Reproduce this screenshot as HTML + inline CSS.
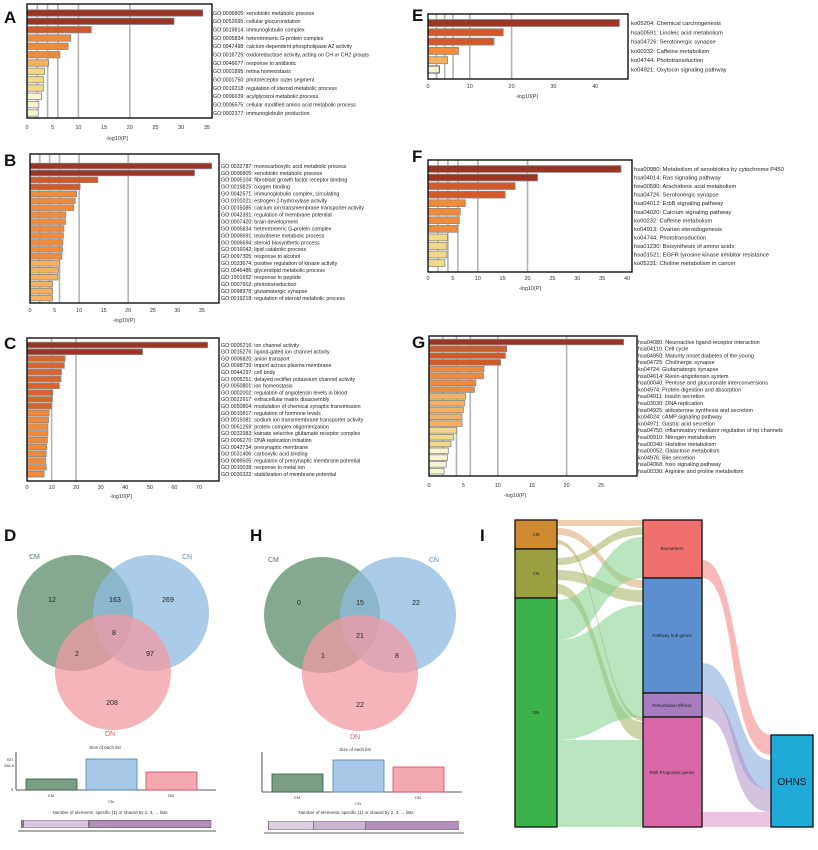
<!DOCTYPE html>
<html><head><meta charset="utf-8"><style>
html,body{margin:0;padding:0;background:#fff;width:818px;height:850px;overflow:hidden}
svg{display:block;font-family:"Liberation Sans",sans-serif}
.l{font-size:5.3px;fill:#222}
.le{font-size:5.8px;fill:#222}
.lg{font-size:5.5px;fill:#222}
.t{font-size:5.5px;fill:#333;text-anchor:middle}
.P{font-size:17px;font-weight:bold;fill:#111}
.g{stroke:#b4b4b4;stroke-width:1.6}
.fr{fill:none;stroke:#111;stroke-width:1.4}
.b rect{stroke:#8a8a8a;stroke-width:0.8}
</style></head><body>
<svg width="818" height="850" viewBox="0 0 818 850" xmlns="http://www.w3.org/2000/svg">
<!-- Panel letters -->
<text class="P" x="4" y="23">A</text>
<text class="P" x="4" y="166">B</text>
<text class="P" x="4" y="349">C</text>
<text class="P" x="412" y="21">E</text>
<text class="P" x="412" y="162">F</text>
<text class="P" x="412" y="348">G</text>
<text class="P" x="4" y="541">D</text>
<text class="P" x="250" y="541">H</text>
<text class="P" x="480" y="541">I</text>

<!-- ===== A ===== -->
<g>
<line class="g" x1="37.3" y1="4" x2="37.3" y2="118"/><line class="g" x1="47.6" y1="4" x2="47.6" y2="118"/><line class="g" x1="57.8" y1="4" x2="57.8" y2="118"/><line class="g" x1="78.4" y1="4" x2="78.4" y2="118"/><line class="g" x1="129.8" y1="4" x2="129.8" y2="118"/>
<g class="b">
<rect x="27" y="9.8" width="175.8" height="6.4" fill="#9b3424"/>
<rect x="27" y="18.1" width="147" height="6.4" fill="#9b3424"/>
<rect x="27" y="26.5" width="64.3" height="6.4" fill="#d2592a"/>
<rect x="27" y="34.8" width="43.7" height="6.4" fill="#f28a3c"/>
<rect x="27" y="43.1" width="41.1" height="6.4" fill="#f28a3c"/>
<rect x="27" y="51.5" width="32.9" height="6.4" fill="#f28a3c"/>
<rect x="27" y="59.8" width="21.6" height="6.4" fill="#f5b160"/>
<rect x="27" y="68.1" width="17.5" height="6.4" fill="#f4d88a"/>
<rect x="27" y="76.4" width="16.4" height="6.4" fill="#f4d88a"/>
<rect x="27" y="84.8" width="16.4" height="6.4" fill="#f4d88a"/>
<rect x="27" y="93.1" width="14.4" height="6.4" fill="#f8f5cf"/>
<rect x="27" y="101.4" width="11.8" height="6.4" fill="#f8f5cf"/>
<rect x="27" y="109.8" width="11.3" height="6.4" fill="#f8f5cf"/>
</g>
<rect class="fr" x="27" y="4" width="185" height="114"/>
<g class="t"><text x="27" y="129">0</text><text x="52.7" y="129">5</text><text x="78.4" y="129">10</text><text x="104.1" y="129">15</text><text x="129.8" y="129">20</text><text x="155.5" y="129">25</text><text x="181.2" y="129">30</text><text x="206.9" y="129">35</text><text x="117" y="140">-log10(P)</text></g>
<g class="l">
<text x="213" y="14.8">GO:0006805: xenobiotic metabolic process</text>
<text x="213" y="23.1">GO:0052695: cellular glucuronidation</text>
<text x="213" y="31.5">GO:0019814: immunoglobulin complex</text>
<text x="213" y="39.8">GO:0005834: heterotrimeric G-protein complex</text>
<text x="213" y="48.1">GO:0047498: calcium-dependent phospholipase A2 activity</text>
<text x="213" y="56.5">GO:0016725: oxidoreductase activity, acting on CH or CH2 groups</text>
<text x="213" y="64.8">GO:0046677: response to antibiotic</text>
<text x="213" y="73.1">GO:0001895: retina homeostasis</text>
<text x="213" y="81.4">GO:0001750: photoreceptor outer segment</text>
<text x="213" y="89.8">GO:0019218: regulation of steroid metabolic process</text>
<text x="213" y="98.1">GO:0006639: acylglycerol metabolic process</text>
<text x="213" y="106.4">GO:0006575: cellular modified amino acid metabolic process</text>
<text x="213" y="114.8">GO:0002377: immunoglobulin production</text>
</g>
</g>

<!-- ===== B ===== -->
<g>
<line class="g" x1="39.8" y1="154" x2="39.8" y2="303"/><line class="g" x1="49.6" y1="154" x2="49.6" y2="303"/><line class="g" x1="59.5" y1="154" x2="59.5" y2="303"/><line class="g" x1="79.1" y1="154" x2="79.1" y2="303"/><line class="g" x1="128.2" y1="154" x2="128.2" y2="303"/>
<g class="b">
<rect x="30" y="163.2" width="181.7" height="5.6" fill="#9b3424"/>
<rect x="30" y="170.15" width="164.5" height="5.6" fill="#9b3424"/>
<rect x="30" y="177.1" width="67.8" height="5.6" fill="#d2592a"/>
<rect x="30" y="184.05" width="50.1" height="5.6" fill="#d2592a"/>
<rect x="30" y="191" width="46.6" height="5.6" fill="#f28a3c"/>
<rect x="30" y="197.95" width="45.2" height="5.6" fill="#f28a3c"/>
<rect x="30" y="204.9" width="43.7" height="5.6" fill="#f28a3c"/>
<rect x="30" y="211.85" width="35.8" height="5.6" fill="#f28a3c"/>
<rect x="30" y="218.8" width="35.4" height="5.6" fill="#f28a3c"/>
<rect x="30" y="225.75" width="33.9" height="5.6" fill="#f28a3c"/>
<rect x="30" y="232.7" width="33.4" height="5.6" fill="#f28a3c"/>
<rect x="30" y="239.65" width="32.9" height="5.6" fill="#f28a3c"/>
<rect x="30" y="246.6" width="32.4" height="5.6" fill="#f28a3c"/>
<rect x="30" y="253.55" width="31.9" height="5.6" fill="#f28a3c"/>
<rect x="30" y="260.5" width="29.5" height="5.6" fill="#f5b160"/>
<rect x="30" y="267.45" width="28.5" height="5.6" fill="#f5b160"/>
<rect x="30" y="274.4" width="28" height="5.6" fill="#f5b160"/>
<rect x="30" y="281.35" width="22.6" height="5.6" fill="#f5b160"/>
<rect x="30" y="288.3" width="22.6" height="5.6" fill="#f5b160"/>
<rect x="30" y="295.25" width="22.6" height="5.6" fill="#f5b160"/>
</g>
<rect class="fr" x="30" y="154" width="189" height="149"/>
<g class="t"><text x="30" y="312">0</text><text x="54.6" y="312">5</text><text x="79.1" y="312">10</text><text x="103.7" y="312">15</text><text x="128.2" y="312">20</text><text x="152.8" y="312">25</text><text x="177.3" y="312">30</text><text x="201.9" y="312">35</text><text x="124" y="322">-log10(P)</text></g>
<g class="l">
<text x="221" y="167.8">GO:0032787: monocarboxylic acid metabolic process</text>
<text x="221" y="174.75">GO:0006805: xenobiotic metabolic process</text>
<text x="221" y="181.7">GO:0005104: fibroblast growth factor receptor binding</text>
<text x="221" y="188.65">GO:0019825: oxygen binding</text>
<text x="221" y="195.6">GO:0042571: immunoglobulin complex, circulating</text>
<text x="221" y="202.55">GO:0101021: estrogen 2-hydroxylase activity</text>
<text x="221" y="209.5">GO:0015085: calcium ion transmembrane transporter activity</text>
<text x="221" y="216.45">GO:0042391: regulation of membrane potential</text>
<text x="221" y="223.4">GO:0007420: brain development</text>
<text x="221" y="230.35">GO:0005834: heterotrimeric G-protein complex</text>
<text x="221" y="237.3">GO:0006691: leukotriene metabolic process</text>
<text x="221" y="244.25">GO:0006694: steroid biosynthetic process</text>
<text x="221" y="251.2">GO:0016042: lipid catabolic process</text>
<text x="221" y="258.15">GO:0097305: response to alcohol</text>
<text x="221" y="265.1">GO:0033674: positive regulation of kinase activity</text>
<text x="221" y="272.05">GO:0046486: glycerolipid metabolic process</text>
<text x="221" y="279">GO:1901652: response to peptide</text>
<text x="221" y="285.95">GO:0007602: phototransduction</text>
<text x="221" y="292.9">GO:0098978: glutamatergic synapse</text>
<text x="221" y="299.85">GO:0019218: regulation of steroid metabolic process</text>
</g>
</g>

<!-- ===== C ===== -->
<g>
<line class="g" x1="51.6" y1="338" x2="51.6" y2="481"/><line class="g" x1="76.1" y1="338" x2="76.1" y2="481"/>
<g class="b">
<rect x="27" y="342.2" width="180.6" height="5.6" fill="#9b3424"/>
<rect x="27" y="349" width="115.5" height="5.6" fill="#9b3424"/>
<rect x="27" y="355.8" width="38.1" height="5.6" fill="#d9652d"/>
<rect x="27" y="362.6" width="37.3" height="5.6" fill="#d9652d"/>
<rect x="27" y="369.4" width="34.4" height="5.6" fill="#d9652d"/>
<rect x="27" y="376.2" width="33.9" height="5.6" fill="#d9652d"/>
<rect x="27" y="383" width="32.4" height="5.6" fill="#d9652d"/>
<rect x="27" y="389.8" width="25.8" height="5.6" fill="#d9652d"/>
<rect x="27" y="396.6" width="25.3" height="5.6" fill="#d9652d"/>
<rect x="27" y="403.4" width="24.6" height="5.6" fill="#d9652d"/>
<rect x="27" y="410.2" width="22.1" height="5.6" fill="#f28a3c"/>
<rect x="27" y="417" width="21.6" height="5.6" fill="#f28a3c"/>
<rect x="27" y="423.8" width="20.9" height="5.6" fill="#f28a3c"/>
<rect x="27" y="430.6" width="20.9" height="5.6" fill="#f28a3c"/>
<rect x="27" y="437.4" width="20.4" height="5.6" fill="#f28a3c"/>
<rect x="27" y="444.2" width="19.7" height="5.6" fill="#f28a3c"/>
<rect x="27" y="451" width="19.2" height="5.6" fill="#f28a3c"/>
<rect x="27" y="457.8" width="18.7" height="5.6" fill="#f28a3c"/>
<rect x="27" y="464.6" width="19.2" height="5.6" fill="#f28a3c"/>
<rect x="27" y="471.4" width="17.2" height="5.6" fill="#f28a3c"/>
</g>
<rect class="fr" x="27" y="338" width="192" height="143"/>
<g class="t"><text x="27" y="489">0</text><text x="51.6" y="489">10</text><text x="76.1" y="489">20</text><text x="100.7" y="489">30</text><text x="125.3" y="489">40</text><text x="149.9" y="489">50</text><text x="174.4" y="489">60</text><text x="199" y="489">70</text><text x="121" y="498">-log10(P)</text></g>
<g class="l">
<text x="221" y="346.8">GO:0005216: ion channel activity</text>
<text x="221" y="353.6">GO:0015276: ligand-gated ion channel activity</text>
<text x="221" y="360.4">GO:0006820: anion transport</text>
<text x="221" y="367.2">GO:0098739: import across plasma membrane</text>
<text x="221" y="374">GO:0044297: cell body</text>
<text x="221" y="380.8">GO:0005251: delayed rectifier potassium channel activity</text>
<text x="221" y="387.6">GO:0050801: ion homeostasis</text>
<text x="221" y="394.4">GO:0002002: regulation of angiotensin levels in blood</text>
<text x="221" y="401.2">GO:0022617: extracellular matrix disassembly</text>
<text x="221" y="408">GO:0050804: modulation of chemical synaptic transmission</text>
<text x="221" y="414.8">GO:0010817: regulation of hormone levels</text>
<text x="221" y="421.6">GO:0015081: sodium ion transmembrane transporter activity</text>
<text x="221" y="428.4">GO:0051259: protein complex oligomerization</text>
<text x="221" y="435.2">GO:0032983: kainate selective glutamate receptor complex</text>
<text x="221" y="442">GO:0006270: DNA replication initiation</text>
<text x="221" y="448.8">GO:0042734: presynaptic membrane</text>
<text x="221" y="455.6">GO:0031406: carboxylic acid binding</text>
<text x="221" y="462.4">GO:0099505: regulation of presynaptic membrane potential</text>
<text x="221" y="469.2">GO:0010038: response to metal ion</text>
<text x="221" y="476">GO:0030322: stabilization of membrane potential</text>
</g>
</g>

<!-- ===== E ===== -->
<g>
<line class="g" x1="436.4" y1="14" x2="436.4" y2="79"/><line class="g" x1="444.7" y1="14" x2="444.7" y2="79"/><line class="g" x1="453.1" y1="14" x2="453.1" y2="79"/><line class="g" x1="469.8" y1="14" x2="469.8" y2="79"/><line class="g" x1="511.6" y1="14" x2="511.6" y2="79"/>
<g class="b">
<rect x="428" y="19.5" width="191.4" height="7" fill="#9b3424"/>
<rect x="428" y="28.8" width="75.2" height="7" fill="#d2592a"/>
<rect x="428" y="38.1" width="66" height="7" fill="#d2592a"/>
<rect x="428" y="47.4" width="30.5" height="7" fill="#f28a3c"/>
<rect x="428" y="56.7" width="19.6" height="7" fill="#f5b160"/>
<rect x="428" y="66" width="11.3" height="7" fill="#f8f5cf" style="stroke:#333"/>
</g>
<rect class="fr" x="428" y="14" width="200" height="65"/>
<g class="t"><text x="428" y="88">0</text><text x="469.8" y="88">10</text><text x="511.6" y="88">20</text><text x="553.4" y="88">30</text><text x="595.2" y="88">40</text><text x="527" y="98">-log10(P)</text></g>
<g class="le">
<text x="631" y="25">ko05204: Chemical carcinogenesis</text>
<text x="631" y="34.3">hsa00591: Linoleic acid metabolism</text>
<text x="631" y="43.6">hsa04726: Serotonergic synapse</text>
<text x="631" y="52.9">ko00232: Caffeine metabolism</text>
<text x="631" y="62.2">ko04744: Phototransduction</text>
<text x="631" y="71.5">ko04921: Oxytocin signaling pathway</text>
</g>
</g>

<!-- ===== F ===== -->
<g>
<line class="g" x1="438" y1="160" x2="438" y2="272"/><line class="g" x1="447.9" y1="160" x2="447.9" y2="272"/><line class="g" x1="457.9" y1="160" x2="457.9" y2="272"/><line class="g" x1="477.8" y1="160" x2="477.8" y2="272"/><line class="g" x1="527.5" y1="160" x2="527.5" y2="272"/>
<g class="b">
<rect x="428" y="165.6" width="193" height="6.8" fill="#9b3424"/>
<rect x="428" y="174.15" width="109.5" height="6.8" fill="#9b3424"/>
<rect x="428" y="182.7" width="87.1" height="6.8" fill="#d2592a"/>
<rect x="428" y="191.25" width="77.1" height="6.8" fill="#d2592a"/>
<rect x="428" y="199.8" width="37.3" height="6.8" fill="#f28a3c"/>
<rect x="428" y="208.35" width="32.3" height="6.8" fill="#f28a3c"/>
<rect x="428" y="216.9" width="31.3" height="6.8" fill="#f28a3c"/>
<rect x="428" y="225.45" width="29.9" height="6.8" fill="#f28a3c"/>
<rect x="428" y="234" width="19.4" height="6.8" fill="#f4d88a"/>
<rect x="428" y="242.55" width="18.9" height="6.8" fill="#f4d88a"/>
<rect x="428" y="251.1" width="18.9" height="6.8" fill="#f4d88a"/>
<rect x="428" y="259.65" width="16.9" height="6.8" fill="#f4d88a"/>
</g>
<rect class="fr" x="428" y="160" width="204" height="112"/>
<g class="t"><text x="428" y="280">0</text><text x="452.9" y="280">5</text><text x="477.8" y="280">10</text><text x="502.6" y="280">15</text><text x="527.5" y="280">20</text><text x="552.4" y="280">25</text><text x="577.3" y="280">30</text><text x="602.1" y="280">35</text><text x="627" y="280">40</text><text x="530" y="290">-log10(P)</text></g>
<g class="le">
<text x="634" y="171">hsa00980: Metabolism of xenobiotics by cytochrome P450</text>
<text x="634" y="179.55">hsa04014: Ras signaling pathway</text>
<text x="634" y="188.1">hsa00590: Arachidonic acid metabolism</text>
<text x="634" y="196.65">hsa04726: Serotonergic synapse</text>
<text x="634" y="205.2">hsa04012: ErbB signaling pathway</text>
<text x="634" y="213.75">hsa04020: Calcium signaling pathway</text>
<text x="634" y="222.3">ko00232: Caffeine metabolism</text>
<text x="634" y="230.85">ko04913: Ovarian steroidogenesis</text>
<text x="634" y="239.4">ko04744: Phototransduction</text>
<text x="634" y="247.95">hsa01230: Biosynthesis of amino acids</text>
<text x="634" y="256.5">hsa01521: EGFR tyrosine kinase inhibitor resistance</text>
<text x="634" y="265.05">ko05231: Choline metabolism in cancer</text>
</g>
</g>

<!-- ===== G ===== -->
<g>
<line class="g" x1="442.8" y1="336" x2="442.8" y2="476"/><line class="g" x1="456.5" y1="336" x2="456.5" y2="476"/><line class="g" x1="470.3" y1="336" x2="470.3" y2="476"/><line class="g" x1="497.8" y1="336" x2="497.8" y2="476"/><line class="g" x1="566.6" y1="336" x2="566.6" y2="476"/>
<g class="b">
<rect x="429" y="339.2" width="194.7" height="5.6" fill="#9b3424"/>
<rect x="429" y="346" width="77.7" height="5.6" fill="#d2592a"/>
<rect x="429" y="352.8" width="76.4" height="5.6" fill="#d2592a"/>
<rect x="429" y="359.6" width="71.6" height="5.6" fill="#d2592a"/>
<rect x="429" y="366.4" width="55" height="5.6" fill="#f28a3c"/>
<rect x="429" y="373.2" width="54.4" height="5.6" fill="#f28a3c"/>
<rect x="429" y="380" width="46.8" height="5.6" fill="#f28a3c"/>
<rect x="429" y="386.8" width="45.4" height="5.6" fill="#f28a3c"/>
<rect x="429" y="393.6" width="36.5" height="5.6" fill="#f5b160"/>
<rect x="429" y="400.4" width="35.8" height="5.6" fill="#f5b160"/>
<rect x="429" y="407.2" width="34.4" height="5.6" fill="#f5b160"/>
<rect x="429" y="414" width="33" height="5.6" fill="#f5b160"/>
<rect x="429" y="420.8" width="33" height="5.6" fill="#f5b160"/>
<rect x="429" y="427.6" width="27.5" height="5.6" fill="#f4d88a"/>
<rect x="429" y="434.4" width="24.8" height="5.6" fill="#f4d88a"/>
<rect x="429" y="441.2" width="22" height="5.6" fill="#f4d88a"/>
<rect x="429" y="448" width="19.3" height="5.6" fill="#f8f5cf"/>
<rect x="429" y="454.8" width="18.6" height="5.6" fill="#f8f5cf"/>
<rect x="429" y="461.6" width="17.2" height="5.6" fill="#f8f5cf"/>
<rect x="429" y="468.4" width="15.1" height="5.6" fill="#f8f5cf"/>
</g>
<rect class="fr" x="429" y="336" width="208" height="140"/>
<g class="t"><text x="429" y="487">0</text><text x="463.4" y="487">5</text><text x="497.8" y="487">10</text><text x="532.2" y="487">15</text><text x="566.6" y="487">20</text><text x="601" y="487">25</text><text x="515" y="497">-log10(P)</text></g>
<g class="lg">
<text x="638" y="343.8">hsa04080: Neuroactive ligand-receptor interaction</text>
<text x="638" y="350.6">hsa04110: Cell cycle</text>
<text x="638" y="357.4">hsa04950: Maturity onset diabetes of the young</text>
<text x="638" y="364.2">hsa04725: Cholinergic synapse</text>
<text x="638" y="371">ko04724: Glutamatergic synapse</text>
<text x="638" y="377.8">hsa04614: Renin-angiotensin system</text>
<text x="638" y="384.6">hsa00040: Pentose and glucuronate interconversions</text>
<text x="638" y="391.4">ko04974: Protein digestion and absorption</text>
<text x="638" y="398.2">hsa04911: Insulin secretion</text>
<text x="638" y="405">hsa03030: DNA replication</text>
<text x="638" y="411.8">hsa04925: aldosterone synthesis and secretion</text>
<text x="638" y="418.6">ko04024: cAMP signaling pathway</text>
<text x="638" y="425.4">ko04971: Gastric acid secretion</text>
<text x="638" y="432.2">hsa04750: inflammatory mediator regulation of trp channels</text>
<text x="638" y="439">hsa00910: Nitrogen metabolism</text>
<text x="638" y="445.8">hsa00340: Histidine metabolism</text>
<text x="638" y="452.6">hsa00052: Galactose metabolism</text>
<text x="638" y="459.4">ko04976: Bile secretion</text>
<text x="638" y="466.2">hsa04068: foxo signaling pathway</text>
<text x="638" y="473">hsa00330: Arginine and proline metabolism</text>
</g>
</g>

<!-- ===== D Venn ===== -->
<g>
<circle cx="75" cy="613" r="58" fill="#6f9a7c" fill-opacity="0.85"/>
<circle cx="151" cy="613" r="58" fill="#8dbbe0" fill-opacity="0.75"/>
<circle cx="113" cy="672" r="58" fill="#f19aa3" fill-opacity="0.75"/>
<text x="29" y="559" style="font-size:7px;fill:#4e7a5e">CM</text>
<text x="182" y="559" style="font-size:7px;fill:#5a8fbf">CN</text>
<text x="105" y="736" style="font-size:7px;fill:#d06070">DN</text>
<g style="font-size:7px;fill:#222;text-anchor:middle">
<text x="52" y="602">12</text><text x="115" y="602">163</text><text x="168" y="602">269</text><text x="114" y="635">8</text><text x="77" y="656">2</text><text x="150" y="656">97</text><text x="112" y="705">208</text>
</g>
<text x="105" y="749" class="t" style="font-size:4.5px">Size of each list</text>
<line x1="16" y1="790" x2="216" y2="790" stroke="#222" stroke-width="0.8"/>
<line x1="16" y1="752" x2="16" y2="790" stroke="#222" stroke-width="0.8"/>
<rect x="26" y="779" width="51" height="11" fill="#7a9f84" stroke="#2f5a3a" stroke-width="0.8"/>
<rect x="86" y="759" width="51" height="31" fill="#a7c8e6" stroke="#4b84b8" stroke-width="0.8"/>
<rect x="146" y="772" width="51" height="18" fill="#f4a8b0" stroke="#d9445a" stroke-width="0.8"/>
<g class="t" style="font-size:4px"><text x="51" y="797">CM</text><text x="111" y="803">CN</text><text x="171" y="797">DN</text><text x="10" y="761">537</text><text x="9" y="767">268.5</text><text x="12" y="791">0</text></g>
<text x="110" y="814" class="t" style="font-size:4.5px">Number of elements: specific (1) or shared by 2, 3, ... lists</text>
<rect x="21" y="820" width="190" height="8" fill="#8a6f8e"/>
<rect x="24" y="820.5" width="64" height="7" fill="#d8c6dc"/>
<rect x="89" y="820.5" width="122" height="7" fill="#b38fbb" stroke="#555" stroke-width="0.5"/>
<line x1="18" y1="831" x2="216" y2="831" stroke="#222" stroke-width="0.8"/>
</g>

<!-- ===== H Venn ===== -->
<g>
<circle cx="322" cy="615" r="58" fill="#6f9a7c" fill-opacity="0.85"/>
<circle cx="398" cy="615" r="58" fill="#8dbbe0" fill-opacity="0.75"/>
<circle cx="360" cy="673" r="58" fill="#f19aa3" fill-opacity="0.75"/>
<text x="268" y="562" style="font-size:7px;fill:#4e7a5e">CM</text>
<text x="429" y="562" style="font-size:7px;fill:#5a8fbf">CN</text>
<text x="350" y="739" style="font-size:7px;fill:#d06070">DN</text>
<g style="font-size:7px;fill:#222;text-anchor:middle">
<text x="299" y="605">0</text><text x="360" y="605">15</text><text x="416" y="605">22</text><text x="360" y="638">21</text><text x="323" y="658">1</text><text x="397" y="658">8</text><text x="360" y="707">22</text>
</g>
<text x="355" y="751" class="t" style="font-size:4.5px">Size of each list</text>
<line x1="262" y1="792" x2="462" y2="792" stroke="#222" stroke-width="0.8"/>
<line x1="262" y1="752" x2="262" y2="792" stroke="#222" stroke-width="0.8"/>
<rect x="272" y="774" width="51" height="18" fill="#7a9f84" stroke="#2f5a3a" stroke-width="0.8"/>
<rect x="333" y="760" width="51" height="32" fill="#a7c8e6" stroke="#4b84b8" stroke-width="0.8"/>
<rect x="393" y="767" width="51" height="25" fill="#f4a8b0" stroke="#d9445a" stroke-width="0.8"/>
<g class="t" style="font-size:4px"><text x="297" y="799">CM</text><text x="358" y="805">CN</text><text x="418" y="799">DN</text></g>
<text x="356" y="814" class="t" style="font-size:4.5px">Number of elements: specific (1) or shared by 2, 3, ... lists</text>
<rect x="268" y="821" width="191" height="9" fill="#8a6f8e"/>
<rect x="269" y="821.5" width="44" height="8" fill="#dccfe0"/>
<rect x="314" y="821.5" width="51" height="8" fill="#cbb4d0"/>
<rect x="366" y="821.5" width="93" height="8" fill="#b38fbb"/>
<line x1="264" y1="833" x2="464" y2="833" stroke="#222" stroke-width="0.8"/>
</g>

<!-- ===== I Sankey ===== -->
<g>
<!-- left->middle flows -->
<g fill-opacity="0.55">
<path d="M557,520 L643,520 L643,526 L557,526 Z" fill="#dca870"/>
<path d="M557,528 C600,528 600,580 643,580 L643,588 C600,588 600,535 557,535 Z" fill="#dca870"/>
<path d="M557,540 C600,540 600,717 643,717 L643,721 C600,721 600,544 557,544 Z" fill="#c0a060"/>
<path d="M557,558 C600,558 600,527 643,527 L643,535 C600,535 600,565 557,565 Z" fill="#a8b060"/>
<path d="M557,570 C600,570 600,590 643,590 L643,602 C600,602 600,580 557,580 Z" fill="#a8b060"/>
<path d="M557,584 C600,584 600,722 643,722 L643,740 C600,740 600,594 557,594 Z" fill="#a8b060"/>
<path d="M557,600 C600,600 600,537 643,537 L643,578 C600,578 600,640 557,640 Z" fill="#7fd08a"/>
<path d="M557,640 C600,640 600,605 643,605 L643,693 C600,693 600,715 557,715 Z" fill="#7fd08a"/>
<path d="M557,715 C600,715 600,693 643,693 L643,717 C600,717 600,740 557,740 Z" fill="#7fd08a"/>
<path d="M557,740 C600,740 600,740 643,740 L643,827 L557,827 Z" fill="#7fd08a"/>
</g>
<!-- middle->OHNS flows -->
<g fill-opacity="0.55">
<path d="M702,560 C740,560 735,735 771,735 L771,755 C725,755 740,578 702,578 Z" fill="#f08080"/>
<path d="M702,663 C740,663 735,760 771,760 L771,790 C725,790 740,693 702,693 Z" fill="#7fa6dc"/>
<path d="M702,693 C740,693 735,790 771,790 L771,812 C725,812 740,717 702,717 Z" fill="#b090c8"/>
<path d="M702,812 L771,812 L771,827 L702,827 Z" fill="#e090c8"/>
</g>
<!-- nodes -->
<g stroke="#111" stroke-width="1.3">
<rect x="515" y="520" width="42" height="29" fill="#d08a30"/>
<rect x="515" y="549" width="42" height="49" fill="#9aa040"/>
<rect x="515" y="598" width="42" height="229" fill="#3cb34a"/>
<rect x="643" y="520" width="59" height="58" fill="#f07070"/>
<rect x="643" y="578" width="59" height="115" fill="#5b8fd0"/>
<rect x="643" y="693" width="59" height="24" fill="#a87cc0"/>
<rect x="643" y="717" width="59" height="110" fill="#d868a8"/>
<rect x="771" y="735" width="42" height="92" fill="#20aad8"/>
</g>
<g style="font-size:4.5px;fill:#222;text-anchor:middle">
<text x="536" y="536">CM</text><text x="536" y="575">CN</text><text x="536" y="714">DN</text>
<text x="672" y="550">Biomarkers</text><text x="672" y="637">Pathway hub genes</text><text x="672" y="707">Perturbation Effects</text><text x="672" y="774">Risk Prognostic genes</text>
</g>
<text x="792" y="785" style="font-size:10px;fill:#111;text-anchor:middle">OHNS</text>
</g>
</svg>
</body></html>
